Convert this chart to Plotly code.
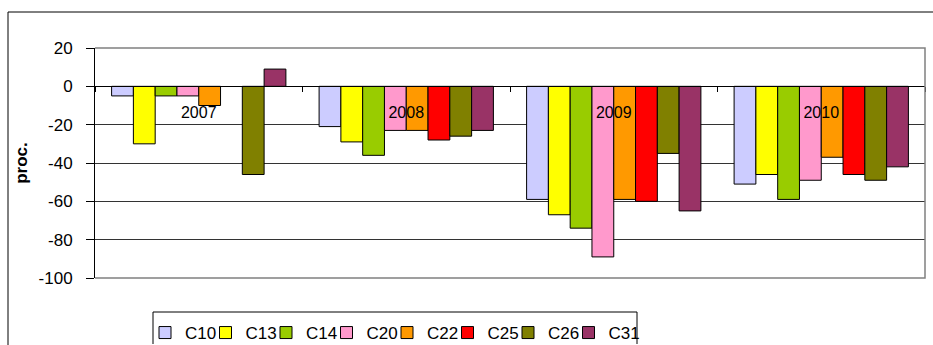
import plotly.graph_objects as go

# Annual change by industry group, percent
years = ["2007", "2008", "2009", "2010"]
series_names = ["C10", "C13", "C14", "C20", "C22", "C25", "C26", "C31"]
c10 = [-5, -21, -59, -51]
c13 = [-30, -29, -67, -46]
c14 = [-5, -36, -74, -59]
c20 = [-5, -23, -89, -49]
c22 = [-10, -23, -59, -37]
c25 = [None, -28, -60, -46]
c26 = [-46, -26, -35, -49]
c31 = [9, -23, -65, -42]
series_values = [c10, c13, c14, c20, c22, c25, c26, c31]
colors = ["#CCCCFF", "#FFFF00", "#99CC00", "#FF99CC",
          "#FF9900", "#FF0000", "#808000", "#993366"]
y_ticks = [20, 0, -20, -40, -60, -80, -100]
y_tick_text = [str(v) for v in y_ticks]

font_family = "Liberation Sans, Arial, sans-serif"


def legend_id(i):
    return "legend" if i == 0 else f"legend{i + 1}"


fig = go.Figure()
for i, (name, vals, col) in enumerate(zip(series_names, series_values, colors)):
    fig.add_trace(go.Bar(
        name=name, x=years, y=vals,
        marker=dict(color=col, line=dict(color="black", width=1)),
        # one key per legend so the keys can be packed tightly in a row
        legend=legend_id(i),
    ))

y_min, y_max = -100, 20

# figure geometry (px)
W, H = 933, 345
left_m, right_m = 95, 8
top_m, plot_bottom = 48, 278
paper_w = W - left_m - right_m
paper_h = H - top_m
y_domain_low = (H - plot_bottom) / paper_h
# category axis sits on the zero line
zero_frac = (0 - y_min) / (y_max - y_min)
zero_pos = y_domain_low + zero_frac * (1 - y_domain_low)


def px_x(px):
    return (px - left_m) / paper_w


def px_y(py):
    return (H - py) / paper_h


legend_font = dict(size=17)
key_pitch = 60.5
legend_left = 145

legends = {}
for i in range(len(series_names)):
    legends[legend_id(i)] = dict(
        orientation="h", x=px_x(legend_left + i * key_pitch), xanchor="left",
        y=px_y(315), yanchor="top",
        borderwidth=0, bgcolor="rgba(255,255,255,0)",
        font=legend_font, itemwidth=30,
    )

# legend frame edges
box_l, box_r, box_t, box_b = 153, 637, 312, 344
box_line = dict(color="black", width=1)
legend_frame = [
    dict(type="line", xref="paper", yref="paper",
         x0=px_x(box_l), x1=px_x(box_r), y0=px_y(box_t), y1=px_y(box_t),
         line=box_line, layer="above"),
    dict(type="line", xref="paper", yref="paper",
         x0=px_x(box_l), x1=px_x(box_l), y0=px_y(box_t), y1=px_y(box_b),
         line=box_line, layer="above"),
    dict(type="line", xref="paper", yref="paper",
         x0=px_x(box_r), x1=px_x(box_r), y0=px_y(box_t), y1=px_y(box_b),
         line=box_line, layer="above"),
]

fig.update_layout(
    width=W, height=H,
    margin=dict(l=left_m, r=right_m, t=top_m, b=0, autoexpand=False),
    paper_bgcolor="white", plot_bgcolor="white",
    barmode="group", bargap=0.16, bargroupgap=0,
    font=dict(family=font_family, color="black", size=17),
    xaxis=dict(
        type="category", anchor="free", position=zero_pos,
        showline=True, linecolor="black", linewidth=1,
        ticks="outside", tickson="boundaries", ticklen=5, tickcolor="black",
        ticklabelstandoff=11,
        tickfont=dict(size=16),
        showgrid=False, zeroline=False,
    ),
    yaxis=dict(
        domain=[y_domain_low, 1],
        range=[y_min, y_max], tickvals=y_ticks, ticktext=y_tick_text,
        showline=True, linecolor="black", linewidth=1,
        ticks="outside", ticklen=8, tickcolor="black",
        ticklabelstandoff=10,
        tickfont=dict(size=17),
        showgrid=True, gridcolor="#333333", gridwidth=1,
        zeroline=False,
        title=dict(text="<b>proc.</b>", font=dict(size=17), standoff=6),
    ),
    showlegend=True,
    shapes=[
        # plot area frame (top, right, bottom)
        dict(type="path", xref="paper", yref="paper",
             path=f"M 0,1 L 1,1 L 1,{y_domain_low} L 0,{y_domain_low}",
             line=dict(color="#808080", width=1.5), layer="above"),
        # chart outer frame
        dict(type="rect", xref="paper", yref="paper",
             x0=px_x(8), x1=px_x(945), y0=px_y(360), y1=px_y(12),
             line=dict(color="black", width=1), layer="below"),
    ] + legend_frame,
    **legends,
)

fig.write_html("out.html")
